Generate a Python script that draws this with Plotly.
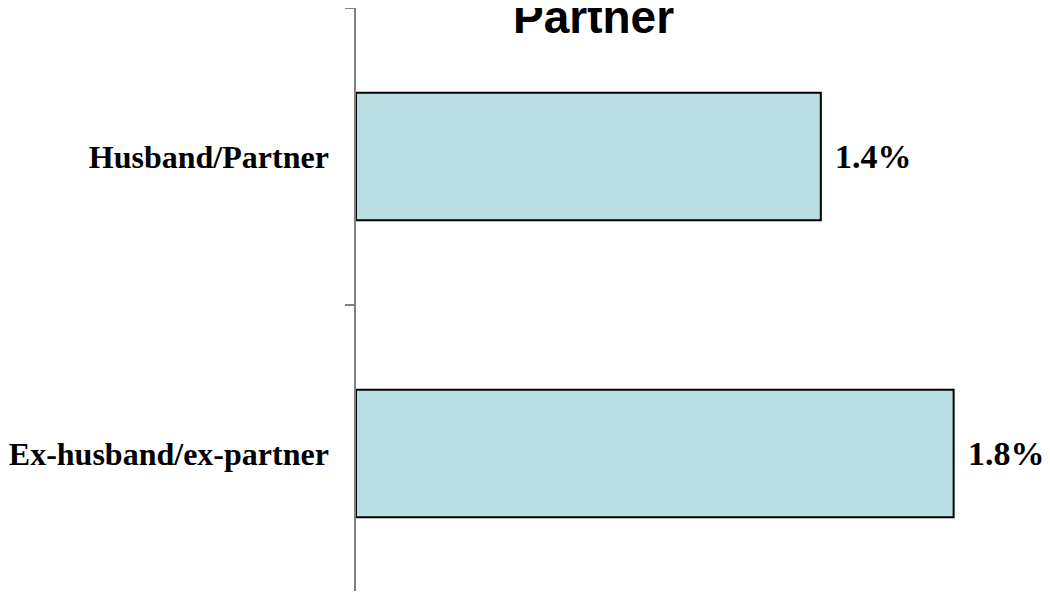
import plotly.graph_objects as go

# data
categories = ["Ex-husband/ex-partner", "Husband/Partner"]
values = [1.8, 1.4]
value_labels = ["1.8%", "1.4%"]
title_text = "Partner"

bar_fill = "#B9DFE2"

fig = go.Figure()

fig.add_trace(go.Bar(
    y=categories,
    x=values,
    orientation="h",
    marker=dict(color=bar_fill, line=dict(color="black", width=2)),
    hoverinfo="skip",
))

# value labels just right of each bar
for cat, val, lab in zip(categories, values, value_labels):
    fig.add_annotation(
        x=val, y=cat,
        text=f"<b>{lab}</b>",
        showarrow=False,
        xanchor="left",
        xshift=12,
        font=dict(family="Liberation Serif, Times New Roman, serif", size=34, color="black"),
    )

# title, partly cut off at the top in the original
fig.add_annotation(
    x=0.354, y=1.0,
    xref="paper", yref="paper",
    text=f"<b>{title_text}</b>",
    showarrow=False,
    xanchor="center",
    yanchor="bottom",
    yshift=-37,
    font=dict(family="Liberation Sans, Arial, sans-serif", size=46, color="black"),
)

fig.update_layout(
    width=1042,
    height=583,
    margin=dict(l=348, r=22, t=0, b=0),
    plot_bgcolor="white",
    paper_bgcolor="white",
    showlegend=False,
    bargap=0.57,
    xaxis=dict(
        range=[0, 2.024],
        showgrid=False,
        zeroline=False,
        showticklabels=False,
        showline=False,
        ticks="",
    ),
    yaxis=dict(
        range=[-0.463, 1.5],
        showgrid=False,
        zeroline=False,
        showline=True,
        linecolor="#808080",
        linewidth=1.5,
        ticks="outside",
        tickson="boundaries",
        ticklen=9,
        tickcolor="#808080",
        tickwidth=1.5,
        ticklabelstandoff=19,
        tickfont=dict(family="Liberation Serif, Times New Roman, serif", size=32,
                      color="black", weight="bold"),
    ),
)

fig.write_html("out.html")
